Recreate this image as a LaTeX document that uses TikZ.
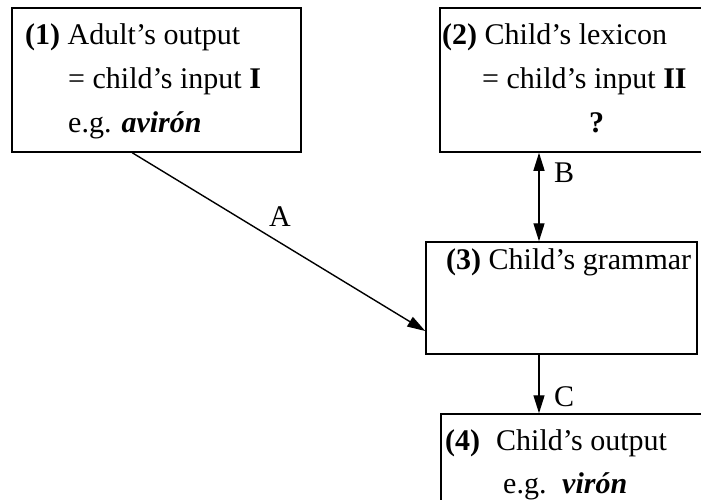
\documentclass[tikz,border=0pt]{standalone}
\usepackage{fontspec}
\setmainfont{Liberation Serif}
\usetikzlibrary{arrows.meta}

\tikzset{
  box/.style={draw, line width=1.5pt, rectangle, inner sep=0pt},
  txt/.style={anchor=base west, inner sep=0pt, font=\fontsize{30}{36}\selectfont},
  lbl/.style={inner sep=0pt, font=\fontsize{30}{36}\selectfont},
  tip/.style={Triangle[length=18pt,width=11pt]},
  link/.style={line width=1.4pt, -{Triangle[length=18pt,width=11pt]}},
  twoway/.style={line width=1.4pt, {Triangle[length=18pt,width=11pt]}-{Triangle[length=18pt,width=11pt]}}
}

\begin{document}
\begin{tikzpicture}[x=1pt, y=-1pt]
  \useasboundingbox (0,0) rectangle (701,500);
  \clip (0,0) rectangle (701,500);

  % boxes
  \node[box, minimum width=289pt, minimum height=144pt] (box1) at (156.5,80) {};
  \node[box, minimum width=270pt, minimum height=144pt] (box2) at (575,80) {};
  \node[box, minimum width=271pt, minimum height=112pt] (box3) at (561.5,298) {};
  \node[box, minimum width=269pt, minimum height=100pt] (box4) at (575.5,464) {};

  % box 1
  \node[txt] (t1a) at (25,45) {\textbf{(1)} Adult’s output};
  \node[txt] (t1b) at (68,89) {= child’s input \textbf{I}};
  \node[txt] (t1c) at (68,132) {e.g. \textbf{\textit{avirón}}};

  % box 2
  \node[txt] (t2a) at (442,45) {\textbf{(2)} Child’s lexicon};
  \node[txt] (t2b) at (482,89) {= child’s input \textbf{II}};
  \node[txt] (t2c) at (589,132) {\textbf{?}};

  % box 3
  \node[txt] (t3a) at (446,269) {\textbf{(3)} Child’s grammar};

  % box 4
  \node[txt] (t4a) at (445,450) {\textbf{(4)}};
  \node[txt] (t4b) at (496,450) {Child’s output};
  \node[txt] (t4c) at (503,493) {e.g.};
  \node[txt] (t4d) at (562,493) {\textbf{\textit{virón}}};

  % connector end points
  \coordinate (aStart) at ([xshift=121pt]box1.south west);
  \coordinate (aEnd) at ([yshift=-33pt]box3.west);
  \coordinate (col) at (539,0);

  % connectors
  \draw[link] (aStart) -- (aEnd);
  \draw[twoway] (box2.south -| col) -- (box3.north -| col);
  \draw[link] (box3.south -| col) -- (box4.north -| col);

  % connector labels
  \node[lbl] (la) at (280,217) {A};
  \node[lbl] (lb) at (564,173) {B};
  \node[lbl] (lc) at (564,397) {C};
\end{tikzpicture}
\end{document}
